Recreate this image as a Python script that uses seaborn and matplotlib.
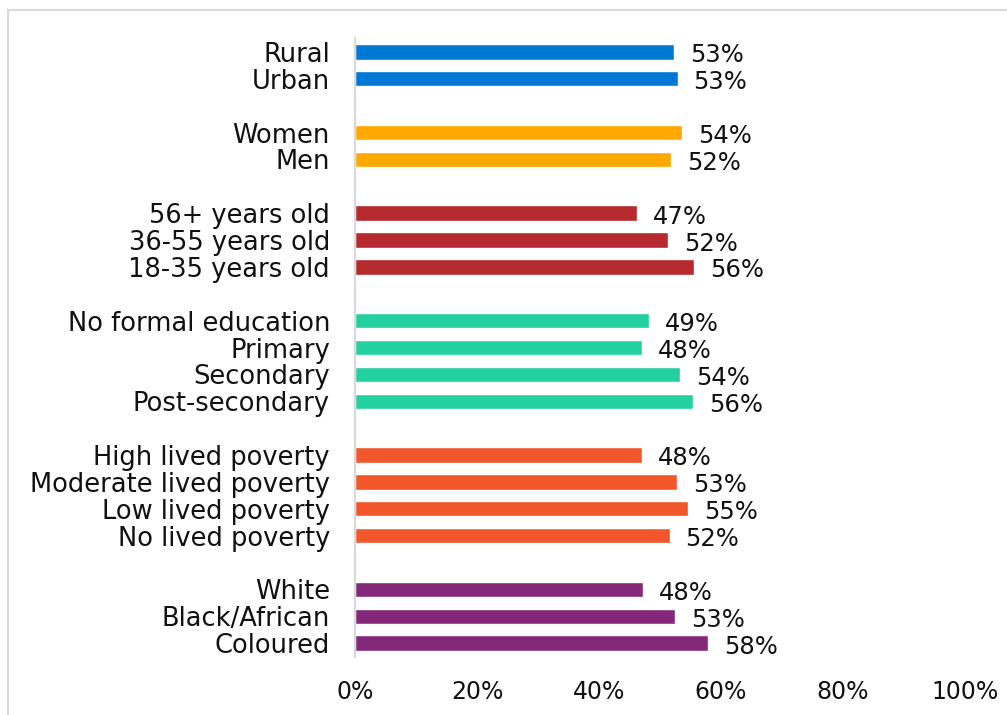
import numpy as np
import pandas as pd
import matplotlib
matplotlib.use("Agg")
import matplotlib.pyplot as plt
from matplotlib.patches import Rectangle
import seaborn as sns

# values (bar lengths, in %) and the printed labels
categories = ["Rural", "Urban",
              "Women", "Men",
              "56+ years old", "36-55 years old", "18-35 years old",
              "No formal education", "Primary", "Secondary", "Post-secondary",
              "High lived poverty", "Moderate lived poverty", "Low lived poverty", "No lived poverty",
              "White", "Black/African", "Coloured"]
values = [52.3, 52.9, 53.6, 51.8, 46.2, 51.3, 55.6,
          48.2, 47.0, 53.3, 55.4,
          47.0, 52.8, 54.6, 51.6,
          47.2, 52.5, 57.9]
value_labels = ["53%", "53%", "54%", "52%", "47%", "52%", "56%",
                "49%", "48%", "54%", "56%",
                "48%", "53%", "55%", "52%",
                "48%", "53%", "58%"]
group_names = ["Location", "Gender", "Age", "Education", "Lived poverty", "Race"]
group_sizes = [2, 2, 3, 4, 4, 3]
group_colors = ["#0078D4", "#FFA800", "#B5292F", "#23D0A0", "#F2572B", "#84287A"]

# one empty slot between groups
groups, slots = [], []
pos = 0
for g, n in zip(group_names, group_sizes):
    for _ in range(n):
        groups.append(g)
        slots.append(pos)
        pos += 1
    pos += 1

df = pd.DataFrame({"category": categories, "value": np.array(values) / 100,
                   "group": groups, "slot": slots})

sns.set_style("white")
plt.rcParams["font.family"] = ["DejaVu Sans"]

fig = plt.figure(figsize=(10.07, 7.15), dpi=100)
ax = fig.add_axes([355 / 1007, 1 - 656.5 / 715, 610 / 1007, (656.5 - 38.5) / 715])

sns.barplot(data=df, x="value", y="slot", hue="group", orient="h", native_scale=True,
            palette=dict(zip(group_names, group_colors)), width=0.57, dodge=False,
            legend=False, saturation=1, ax=ax)

for s, v, lab in zip(df["slot"], df["value"], value_labels):
    ax.text(v + 0.026, s + 0.13, lab, ha="left", va="center", fontsize=17.5, color="#111111")

ax.set_ylim(df["slot"].max() + 0.5, -0.5)
ax.set_yticks(df["slot"])
ax.set_yticklabels(df["category"], fontsize=18.5, color="#111111")
ax.set_xlim(0, 1)
ax.set_xticks(np.linspace(0, 1, 6))
ax.set_xticklabels([f"{int(t*100)}%" for t in np.linspace(0, 1, 6)], fontsize=17, color="#111111")
ax.tick_params(axis="y", length=0, pad=18)
ax.tick_params(axis="x", length=0, pad=17)
ax.set_xlabel("")
ax.set_ylabel("")
for side in ["top", "right", "bottom"]:
    ax.spines[side].set_visible(False)
ax.spines["left"].set_color("#D9D9D9")
ax.spines["left"].set_linewidth(1.6)

# light chart-area frame
fig.add_artist(Rectangle((8 / 1007, -0.05), 1.1, 1.05 - 10 / 715, transform=fig.transFigure,
                         fill=False, edgecolor="#D9D9D9", linewidth=1.5))

fig.savefig("out.png", dpi=100)
